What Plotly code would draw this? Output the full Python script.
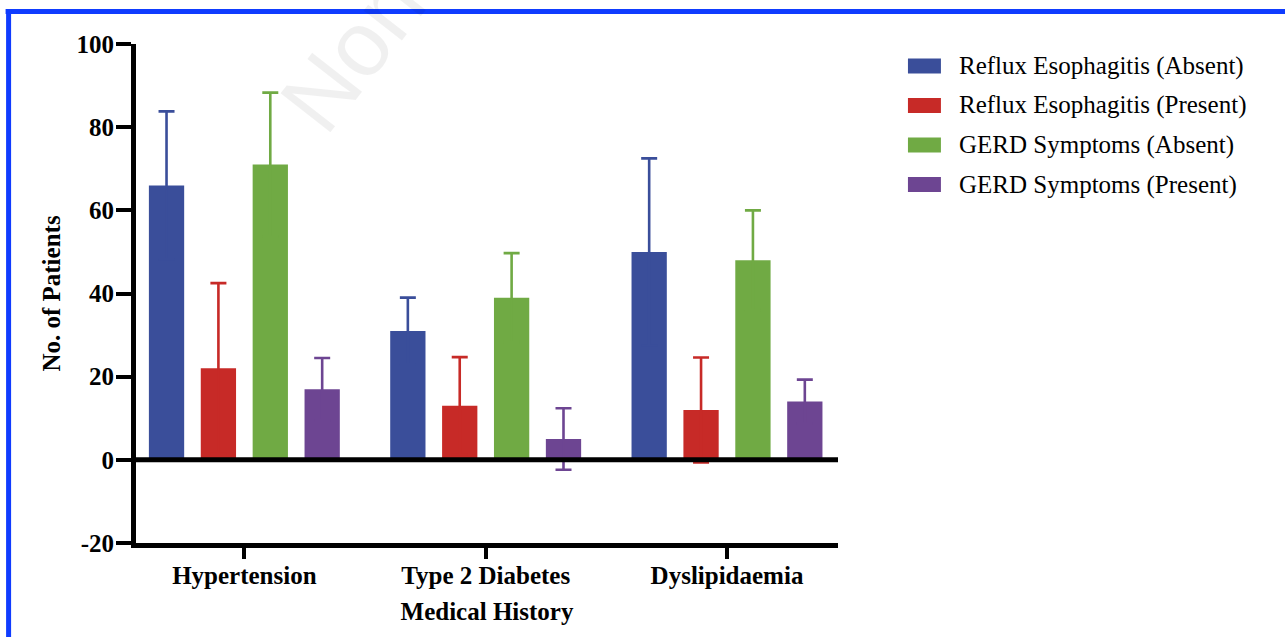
import plotly.graph_objects as go

# Data: mean number of patients (with SD) per medical history category
categories = ["Hypertension", "Type 2 Diabetes", "Dyslipidaemia"]
series_names = [
    "Reflux Esophagitis (Absent)",
    "Reflux Esophagitis (Present)",
    "GERD Symptoms (Absent)",
    "GERD Symptoms (Present)",
]
re_absent = [66, 31, 50]
re_absent_sd = [17.8, 8.0, 22.5]
re_present = [22, 13, 12]
re_present_sd = [20.5, 11.7, 12.6]
gerd_absent = [71, 39, 48]
gerd_absent_sd = [17.3, 10.7, 12.0]
gerd_present = [17, 5, 14]
gerd_present_sd = [7.5, 7.4, 5.3]
y_ticks = [-20, 0, 20, 40, 60, 80, 100]
y_tick_text = ["-20", "0", "20", "40", "60", "80", "100"]

colors = ["#3a4e9a", "#c72a27", "#70aa44", "#6d4592"]
values = [re_absent, re_present, gerd_absent, gerd_present]
errors = [re_absent_sd, re_present_sd, gerd_absent_sd, gerd_present_sd]

W, H = 1285, 637
L, R, T, B = 135.5, 838, 44, 543  # plot area in pixels


def px_x(p):
    return (p - L) / (R - L)


def px_y(p):
    return (B - p) / (B - T)


SERIF = "Liberation Serif"
FS = 25

fig = go.Figure()
for name, vals, errs, col in zip(series_names, values, errors, colors):
    fig.add_trace(go.Bar(
        x=categories, y=vals, name=name,
        marker=dict(color=col, line=dict(width=0)),
        error_y=dict(type="data", array=errs, visible=True,
                     color=col, thickness=2.6, width=8),
        showlegend=False,
    ))

shapes = []
annotations = []

# Horizontal line at zero
shapes.append(dict(type="line", xref="paper", yref="y", x0=0, x1=1, y0=0, y1=0,
                   line=dict(color="black", width=5), layer="above"))

# Blue frame along the top and left edges
frame_col = "#0f3cff"
shapes.append(dict(type="line", xref="paper", yref="paper",
                   x0=px_x(5), x1=px_x(1300), y0=px_y(11.5), y1=px_y(11.5),
                   line=dict(color=frame_col, width=5), layer="above"))
shapes.append(dict(type="line", xref="paper", yref="paper",
                   x0=px_x(8), x1=px_x(8), y0=px_y(9), y1=px_y(660),
                   line=dict(color=frame_col, width=5), layer="above"))

# Legend: colour swatches with labels
row_y = [66, 105.5, 145, 184.5]
for name, col, yc in zip(series_names, colors, row_y):
    shapes.append(dict(type="rect", xref="paper", yref="paper",
                       x0=px_x(908), x1=px_x(941), y0=px_y(yc - 7.5), y1=px_y(yc + 7.5),
                       fillcolor=col, line=dict(width=0)))
    annotations.append(dict(x=px_x(957), y=px_y(yc), xref="paper", yref="paper",
                            text=name, showarrow=False, xanchor="left", yanchor="middle",
                            font=dict(family=SERIF, size=FS, color="black")))

# Faint watermark
annotations.append(dict(x=px_x(352), y=px_y(52), xref="paper", yref="paper",
                        text="Non", showarrow=False, textangle=-52,
                        xanchor="center", yanchor="middle",
                        font=dict(family="Liberation Sans", size=92,
                                  color="rgba(0,0,0,0.06)")))

fig.update_layout(
    width=W, height=H,
    margin=dict(l=L, r=W - R, t=T, b=H - B, pad=0),
    paper_bgcolor="white", plot_bgcolor="white",
    barmode="group", bargap=0.14, bargroupgap=0.32,
    shapes=shapes, annotations=annotations,
    showlegend=False,
    font=dict(family=SERIF, color="black"),
)

fig.update_yaxes(
    range=[-20, 100], tickvals=y_ticks, ticktext=y_tick_text,
    showgrid=False, zeroline=False,
    showline=True, linecolor="black", linewidth=5,
    ticks="outside", ticklen=15, tickwidth=4, tickcolor="black",
    ticklabelstandoff=-3,
    tickfont=dict(family=SERIF, size=FS, color="black", weight="bold"),
    title=dict(text="No. of Patients", standoff=10,
               font=dict(family=SERIF, size=FS, color="black", weight="bold")),
)
fig.update_xaxes(
    range=[-0.449, 2.46],
    showgrid=False, zeroline=False,
    showline=True, linecolor="black", linewidth=5,
    ticks="outside", ticklen=11, tickwidth=4, tickcolor="black",
    ticklabelstandoff=-5,
    tickfont=dict(family=SERIF, size=FS, color="black", weight="bold"),
    title=dict(text="Medical History", standoff=16,
               font=dict(family=SERIF, size=FS, color="black", weight="bold")),
)

fig.write_html("out.html")
